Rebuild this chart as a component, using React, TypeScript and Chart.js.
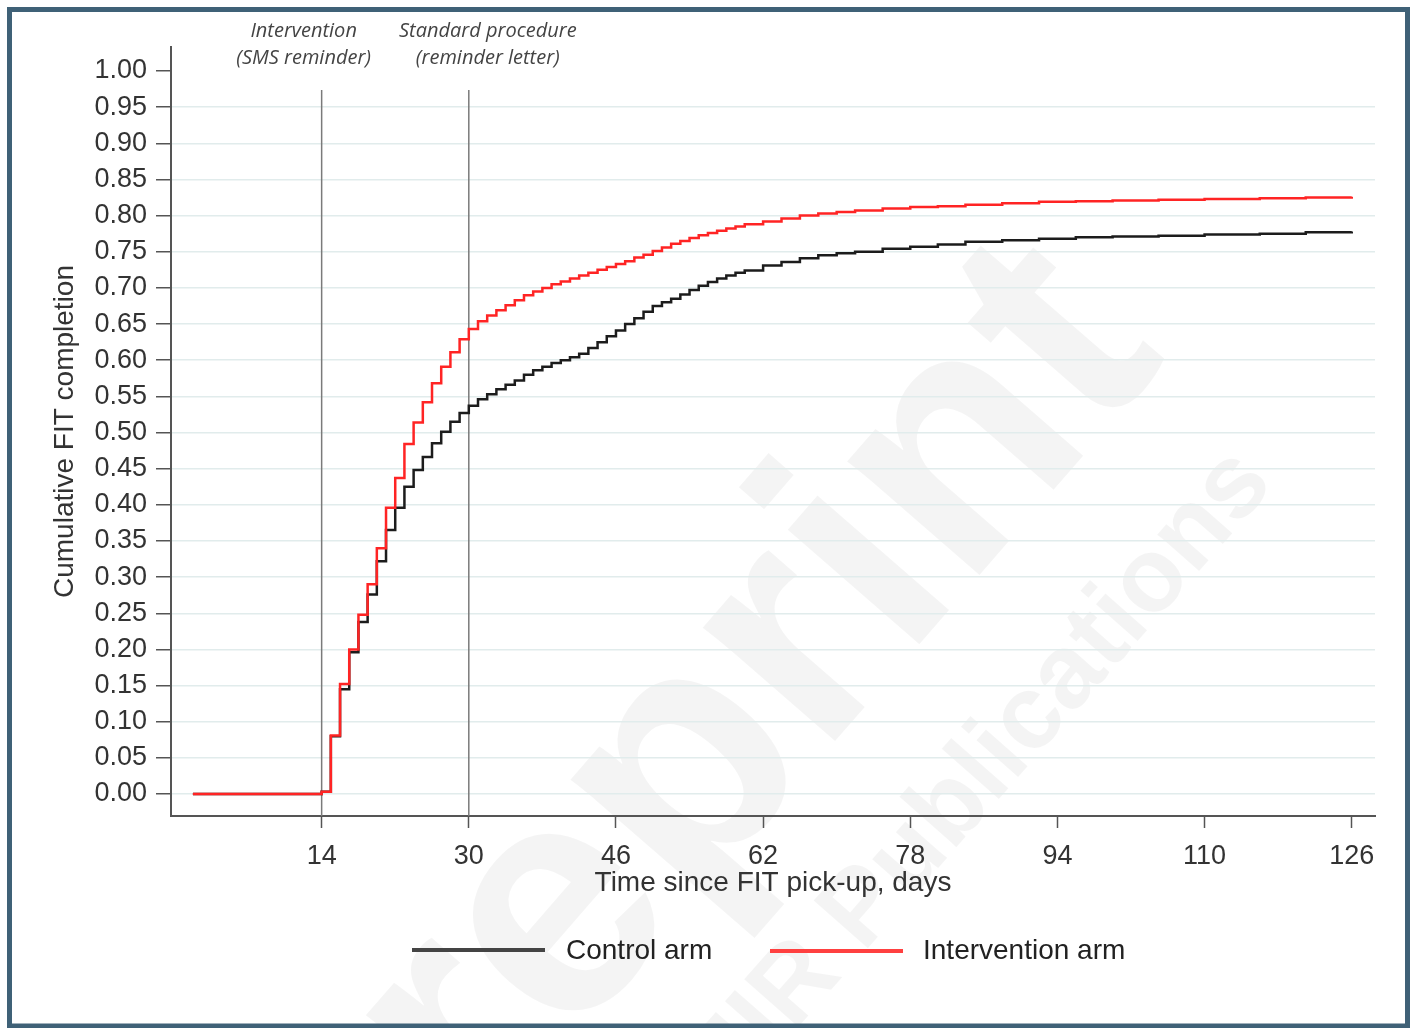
import React, { useEffect, useRef } from "react";
import { Chart, registerables } from "chart.js";

Chart.register(...registerables);

// Days since FIT pick-up (step points)
const days = [
  0, 14, 15, 16, 17, 18, 19, 20, 21, 22, 23, 24, 25, 26, 27, 28, 29, 30, 31, 32, 33, 34, 35, 36, 37,
  38, 39, 40, 41, 42, 43, 44, 45, 46, 47, 48, 49, 50, 51, 52, 53, 54, 55, 56, 57, 58, 59, 60, 62,
  64, 66, 68, 70, 72, 75, 78, 81, 84, 88, 92, 96, 100, 105, 110, 116, 121, 126,
];

const controlArm = [
  0, 0.003, 0.08, 0.145, 0.196, 0.238, 0.276, 0.322, 0.365, 0.396, 0.425, 0.448, 0.466, 0.485,
  0.501, 0.515, 0.527, 0.537, 0.546, 0.553, 0.56, 0.566, 0.572, 0.58, 0.586, 0.591, 0.596, 0.6,
  0.604, 0.609, 0.617, 0.625, 0.633, 0.641, 0.65, 0.658, 0.667, 0.675, 0.68, 0.685, 0.691, 0.697,
  0.703, 0.708, 0.713, 0.717, 0.721, 0.724, 0.731, 0.736, 0.741, 0.745, 0.748, 0.75, 0.754, 0.757,
  0.76, 0.764, 0.766, 0.768, 0.77, 0.771, 0.772, 0.774, 0.775, 0.777, 0.778,
];

const interventionArm = [
  0, 0.003, 0.081, 0.152, 0.2, 0.248, 0.29, 0.34, 0.396, 0.437, 0.484, 0.514, 0.542, 0.568, 0.591,
  0.611, 0.629, 0.643, 0.654, 0.662, 0.669, 0.676, 0.683, 0.69, 0.695, 0.7, 0.705, 0.709, 0.713,
  0.717, 0.721, 0.725, 0.729, 0.733, 0.737, 0.742, 0.746, 0.751, 0.756, 0.761, 0.765, 0.769, 0.773,
  0.776, 0.779, 0.782, 0.785, 0.788, 0.792, 0.796, 0.8, 0.803, 0.805, 0.807, 0.81, 0.812, 0.813,
  0.815, 0.817, 0.819, 0.82, 0.821, 0.822, 0.823, 0.824, 0.825, 0.826,
];

const xTickValues = [14, 30, 46, 62, 78, 94, 110, 126];
const yTickValues = [
  0, 0.05, 0.1, 0.15, 0.2, 0.25, 0.3, 0.35, 0.4, 0.45, 0.5, 0.55, 0.6, 0.65, 0.7, 0.75, 0.8, 0.85,
  0.9, 0.95, 1.0,
];

const reminderDays = [14, 30];
const reminderLabels = [
  ["Intervention", "(SMS reminder)"],
  ["Standard procedure", "(reminder letter)"],
];

const seriesNames = ["Control arm", "Intervention arm"];
const xTitle = "Time since FIT pick-up, days";
const yTitle = "Cumulative FIT completion";
const watermark = ["Preprint", "JMIR Publications"];

const FAMILY = '"Liberation Sans", Arial, Helvetica, sans-serif';

const decorPlugin = {
  id: "decor",
  beforeDraw(chart: any) {
    const ctx = chart.ctx;
    ctx.save();
    ctx.fillStyle = "#ffffff";
    ctx.fillRect(0, 0, chart.width, chart.height);
    ctx.fillStyle = "rgba(0,0,0,0.045)";
    ctx.textAlign = "center";
    ctx.textBaseline = "middle";
    ctx.save();
    ctx.translate(685, 775);
    ctx.rotate((-49 * Math.PI) / 180);
    ctx.font = `bold 330px ${FAMILY}`;
    ctx.fillText(watermark[0], 0, 0);
    ctx.restore();
    ctx.save();
    ctx.translate(955, 805);
    ctx.rotate((-48.7 * Math.PI) / 180);
    ctx.font = `bold 105px ${FAMILY}`;
    ctx.fillText(watermark[1], 0, 0);
    ctx.restore();
    ctx.restore();
  },
  beforeDatasetsDraw(chart: any) {
    const ctx = chart.ctx;
    const xs = chart.scales.x;
    const area = chart.chartArea;
    ctx.save();
    ctx.strokeStyle = "#7a7a7a";
    ctx.lineWidth = 1.5;
    reminderDays.forEach((d) => {
      const px = xs.getPixelForValue(d);
      ctx.beginPath();
      ctx.moveTo(px, 90);
      ctx.lineTo(px, area.bottom);
      ctx.stroke();
    });
    ctx.restore();
  },
  afterDraw(chart: any) {
    const ctx = chart.ctx;
    const xs = chart.scales.x;
    ctx.save();
    // annotations
    ctx.font = `italic 20px "Open Sans", "DejaVu Sans", sans-serif`;
    ctx.fillStyle = "#444";
    ctx.textAlign = "center";
    ctx.textBaseline = "middle";
    const centers = [xs.getPixelForValue(reminderDays[0]) - 18, xs.getPixelForValue(reminderDays[1]) + 19];
    reminderLabels.forEach((lines, i) => {
      ctx.fillText(lines[0], centers[i], 31);
      ctx.fillText(lines[1], centers[i], 58);
    });
    // legend
    ctx.lineWidth = 4;
    ctx.strokeStyle = "#444";
    ctx.beginPath();
    ctx.moveTo(412, 950);
    ctx.lineTo(545, 950);
    ctx.stroke();
    ctx.strokeStyle = "#ff4040";
    ctx.beginPath();
    ctx.moveTo(770, 951);
    ctx.lineTo(903, 951);
    ctx.stroke();
    ctx.font = `28px ${FAMILY}`;
    ctx.fillStyle = "#222";
    ctx.textAlign = "left";
    ctx.fillText(seriesNames[0], 566, 951);
    ctx.fillText(seriesNames[1], 923, 951);
    // frame
    ctx.lineWidth = 5;
    ctx.strokeStyle = "#3f6177";
    ctx.strokeRect(9.5, 9.5, 1398, 1016.5);
    ctx.restore();
  },
};

export default function App() {
  const ref = useRef<HTMLCanvasElement>(null);
  useEffect(() => {
    const canvas = ref.current!;
    const chart = new Chart(canvas, {
      type: "line",
      data: {
        datasets: [
          {
            label: seriesNames[0],
            data: days.map((d, i) => ({ x: d, y: controlArm[i] })),
            borderColor: "#1c1c1c",
            borderWidth: 2.5,
            stepped: "before",
            pointRadius: 0,
            fill: false,
            order: 1,
          },
          {
            label: seriesNames[1],
            data: days.map((d, i) => ({ x: d, y: interventionArm[i] })),
            borderColor: "#ff2424",
            borderWidth: 2.5,
            stepped: "before",
            pointRadius: 0,
            fill: false,
            order: 0,
          },
        ],
      },
      options: {
        responsive: false,
        animation: false,
        devicePixelRatio: 1,
        layout: { padding: { left: 0, top: 47, right: 39, bottom: 112 } },
        plugins: { legend: { display: false }, tooltip: { enabled: false } },
        scales: {
          x: {
            type: "linear",
            min: -2.38,
            max: 128.53,
            afterBuildTicks: (s: any) => {
              s.ticks = xTickValues.map((v) => ({ value: v }));
            },
            afterFit: (s: any) => {
              s.height = 100;
            },
            grid: {
              drawOnChartArea: false,
              drawTicks: true,
              tickLength: 12,
              tickColor: "#555",
              tickWidth: 1.5,
            },
            border: { display: true, color: "#555", width: 2 },
            ticks: {
              font: { family: FAMILY, size: 27 },
              color: "#333",
              padding: 12,
              maxRotation: 0,
              autoSkip: false,
              callback: (v: any) => String(v),
            },
            title: {
              display: true,
              text: xTitle,
              font: { family: FAMILY, size: 28 },
              color: "#333",
              padding: { top: 0, bottom: 16 },
            },
          },
          y: {
            type: "linear",
            min: -0.0304,
            max: 1.0332,
            afterBuildTicks: (s: any) => {
              s.ticks = yTickValues.map((v) => ({ value: v }));
            },
            afterFit: (s: any) => {
              s.width = 171;
            },
            grid: {
              drawOnChartArea: true,
              drawTicks: true,
              tickLength: 15,
              tickColor: "#555",
              tickWidth: 1.5,
              lineWidth: 1.5,
              color: (c: any) => (c.tick && c.tick.value === 1 ? "rgba(0,0,0,0)" : "#e1ecec"),
            },
            border: { display: true, color: "#555", width: 2 },
            ticks: {
              font: { family: FAMILY, size: 27 },
              color: "#333",
              padding: 9,
              autoSkip: false,
              callback: (v: any) => Number(v).toFixed(2),
            },
            title: {
              display: true,
              text: yTitle,
              font: { family: FAMILY, size: 28 },
              color: "#333",
              padding: { top: 48, bottom: 0 },
            },
          },
        },
      },
      plugins: [decorPlugin],
    } as any);
    return () => chart.destroy();
  }, []);
  return (
    <canvas
      ref={ref}
      width={1414}
      height={1028}
      style={{ position: "fixed", left: 0, top: 0, width: 1414, height: 1028 }}
    />
  );
}
